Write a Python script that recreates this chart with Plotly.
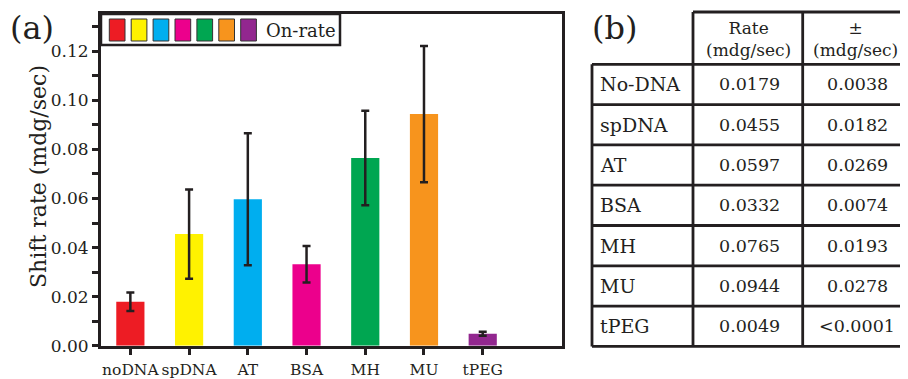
import plotly.graph_objects as go

# ---------------- data ----------------
categories = ["noDNA", "spDNA", "AT", "BSA", "MH", "MU", "tPEG"]
rates = [0.0179, 0.0455, 0.0597, 0.0332, 0.0765, 0.0944, 0.0049]
errors = [0.0038, 0.0182, 0.0269, 0.0074, 0.0193, 0.0278, 0.0008]
bar_colors = ["#ED1C24", "#FFF200", "#00AEEF", "#EC008C", "#00A651", "#F7941D", "#92278F"]

y_tickvals = [0.00, 0.01, 0.02, 0.03, 0.04, 0.05, 0.06, 0.07, 0.08, 0.09, 0.10, 0.11, 0.12, 0.13]
y_ticktext = ["0.00", "", "0.02", "", "0.04", "", "0.06", "", "0.08", "", "0.10", "", "0.12", ""]

table_labels = ["No-DNA", "spDNA", "AT", "BSA", "MH", "MU", "tPEG"]
table_rates = ["0.0179", "0.0455", "0.0597", "0.0332", "0.0765", "0.0944", "0.0049"]
table_errs = ["0.0038", "0.0182", "0.0269", "0.0074", "0.0193", "0.0278", "<0.0001"]
table_headers = ["Rate<br>(mdg/sec)", "±<br>(mdg/sec)"]
legend_text = "On-rate"
y_title = "Shift rate (mdg/sec)"

# ---------------- layout helpers ----------------
# the page body has an 8px default margin, so the figure starts at (8, 8)
OFF = 8
W, H = 908 - OFF, 379 - OFF
FONT = "DejaVu Serif"
INK = "#231F20"


def px(x):
    return (x - OFF) / W


def py(y):
    return 1 - (y - OFF) / H


fig = go.Figure()
fig.add_trace(go.Bar(
    x=categories, y=rates, width=0.48,
    marker=dict(color=bar_colors, line=dict(width=0)),
    error_y=dict(type="data", array=errors, color=INK, thickness=2.5, width=4),
    showlegend=False,
))

shapes = []
annotations = []

# legend box
shapes.append(dict(type="rect", xref="paper", yref="paper",
                   x0=px(101), x1=px(340), y0=py(45), y1=py(14),
                   line=dict(color=INK, width=2.5), fillcolor="white", layer="above"))
for i, c in enumerate(bar_colors):
    x0 = 109.3 + i * 21.9
    shapes.append(dict(type="rect", xref="paper", yref="paper",
                       x0=px(x0), x1=px(x0 + 15.7), y0=py(41), y1=py(19),
                       line=dict(color="#333333", width=1), fillcolor=c, layer="above"))
annotations.append(dict(text=legend_text, xref="paper", yref="paper", x=px(264), y=py(31),
                        xanchor="left", yanchor="middle", showarrow=False,
                        font=dict(family=FONT, size=18, color=INK)))

# panel labels
annotations.append(dict(text="(a)", xref="paper", yref="paper", x=px(8), y=py(28),
                        xanchor="left", yanchor="middle", showarrow=False,
                        font=dict(family=FONT, size=32, color=INK)))
annotations.append(dict(text="(b)", xref="paper", yref="paper", x=px(590), y=py(28),
                        xanchor="left", yanchor="middle", showarrow=False,
                        font=dict(family=FONT, size=32, color=INK)))

# y axis title
annotations.append(dict(text=y_title, xref="paper", yref="paper", x=px(38), y=py(177),
                        xanchor="center", yanchor="middle", textangle=-90, showarrow=False,
                        font=dict(family=FONT, size=22, color=INK)))

# ---------------- table ----------------
col_x = [592, 693, 802.7, 915]
head_top = 12
row_top = 64.3
row_h = 40.3
n = len(table_labels)
bottom = row_top + n * row_h
lw = 2.8


def hline(y, x0, x1):
    shapes.append(dict(type="line", xref="paper", yref="paper",
                       x0=px(x0), x1=px(x1), y0=py(y), y1=py(y),
                       line=dict(color=INK, width=lw)))


def vline(x, y0, y1):
    shapes.append(dict(type="line", xref="paper", yref="paper",
                       x0=px(x), x1=px(x), y0=py(y0), y1=py(y1),
                       line=dict(color=INK, width=lw)))


hline(head_top, col_x[1], col_x[3])
for r in range(n + 1):
    hline(row_top + r * row_h, col_x[0], col_x[3])
vline(col_x[0], row_top, bottom)
vline(col_x[1], head_top, bottom)
vline(col_x[2], head_top, bottom)

header_centers = [748, 855]
for hx, ht in zip(header_centers, table_headers):
    annotations.append(dict(text=ht, xref="paper", yref="paper", x=px(hx), y=py(39),
                            xanchor="center", yanchor="middle", showarrow=False, align="center",
                            font=dict(family=FONT, size=17, color=INK)))

for r in range(n):
    cy = row_top + (r + 0.5) * row_h
    annotations.append(dict(text=table_labels[r], xref="paper", yref="paper", x=px(598), y=py(cy),
                            xanchor="left", yanchor="middle", showarrow=False,
                            font=dict(family=FONT, size=19, color=INK)))
    annotations.append(dict(text=table_rates[r], xref="paper", yref="paper", x=px(749), y=py(cy),
                            xanchor="center", yanchor="middle", showarrow=False,
                            font=dict(family=FONT, size=17.5, color=INK)))
    annotations.append(dict(text=table_errs[r], xref="paper", yref="paper", x=px(857), y=py(cy),
                            xanchor="center", yanchor="middle", showarrow=False,
                            font=dict(family=FONT, size=17.5, color=INK)))

y_range = [0, 0.1352]
fig.update_layout(
    width=W, height=H,
    margin=dict(l=0, r=0, t=0, b=0),
    paper_bgcolor="white", plot_bgcolor="white",
    font=dict(family=FONT, color=INK),
    bargap=0.3,
    xaxis=dict(domain=[px(101), px(562)], range=[-0.5, 7.35], showline=True, mirror=True,
               linecolor=INK, linewidth=3, ticks="outside", ticklen=6, tickwidth=2.5,
               tickcolor=INK, showgrid=False, zeroline=False, automargin=False,
               tickangle=0, ticklabelstandoff=2,
               tickfont=dict(family=FONT, size=15.5, color=INK)),
    yaxis=dict(domain=[py(345.7), py(14)], range=y_range, showline=True, mirror=True,
               linecolor=INK, linewidth=3, ticks="outside", ticklen=6, tickwidth=2.5,
               tickcolor=INK, tickvals=y_tickvals, ticktext=y_ticktext,
               showgrid=False, zeroline=False, automargin=False,
               tickfont=dict(family=FONT, size=17, color=INK)),
    yaxis2=dict(overlaying="y", side="right", anchor="x", range=y_range,
                tickvals=y_tickvals, showticklabels=False, ticks="inside", ticklen=9,
                tickwidth=2.5, tickcolor=INK, showgrid=False, zeroline=False,
                showline=False, automargin=False),
    shapes=shapes,
    annotations=annotations,
)

fig.write_html("out.html")
